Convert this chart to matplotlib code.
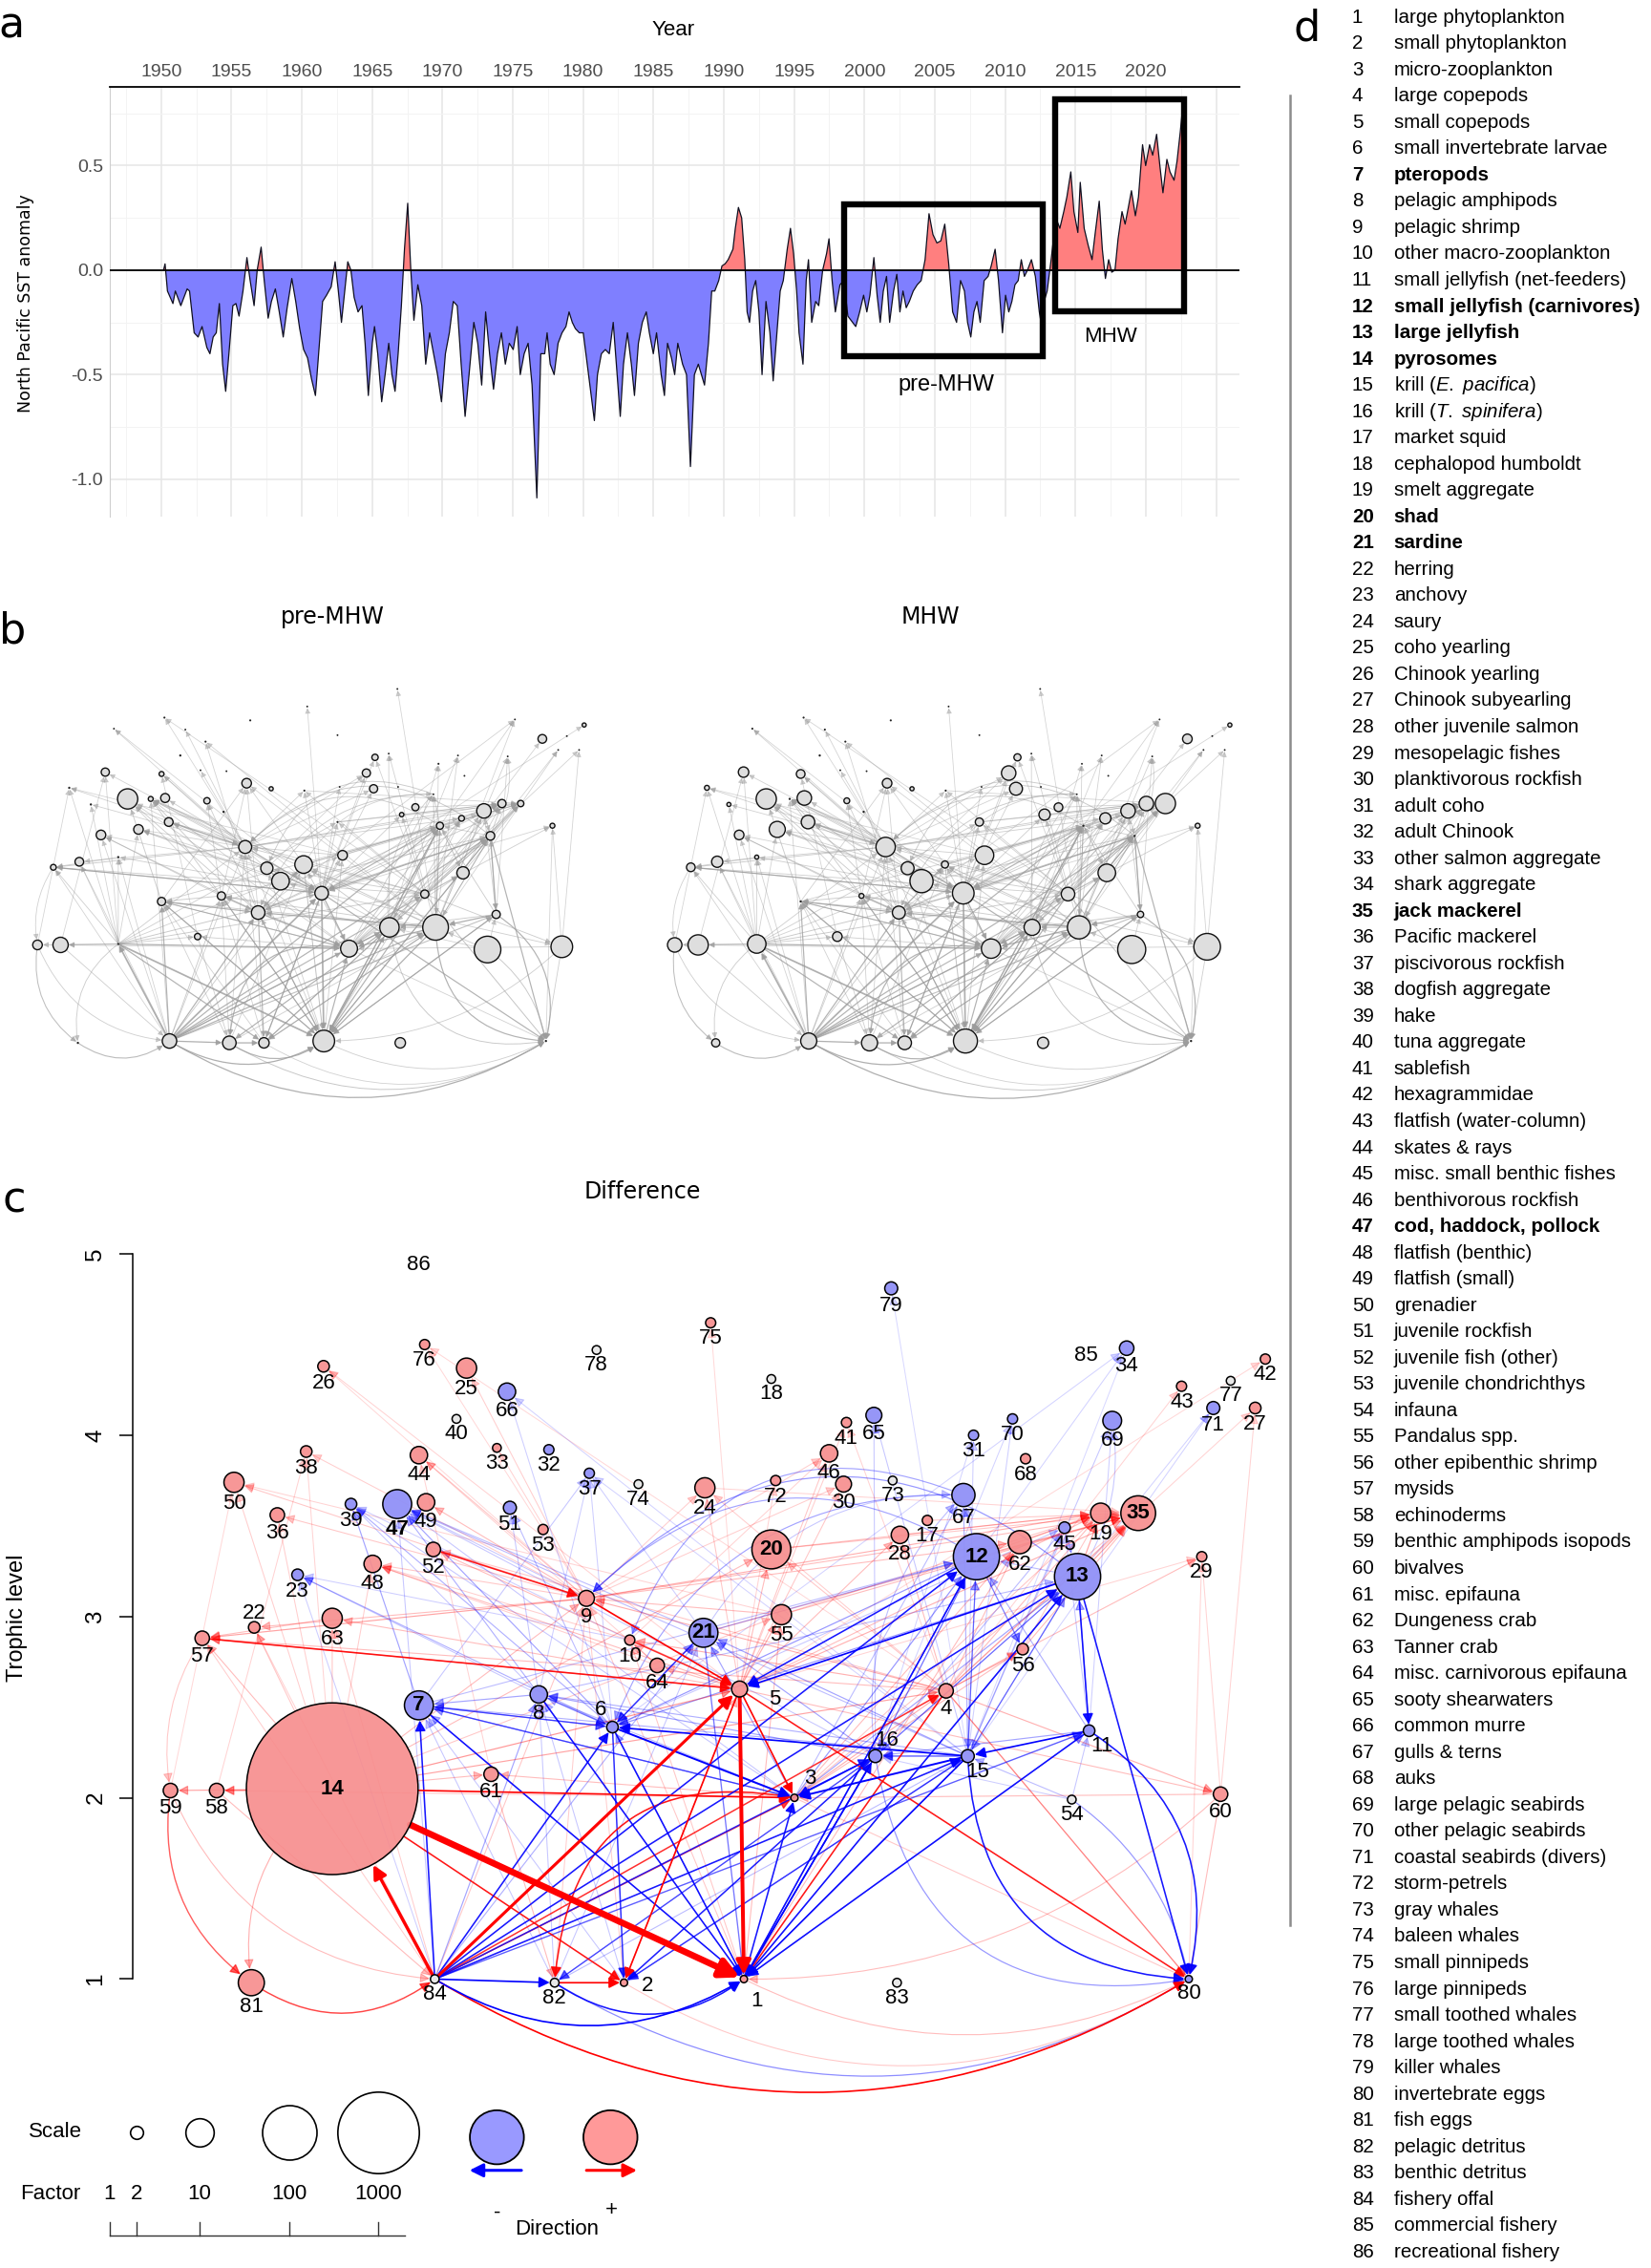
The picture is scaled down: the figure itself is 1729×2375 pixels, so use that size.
import numpy as np
import matplotlib.pyplot as plt
from matplotlib.patches import FancyArrowPatch, Rectangle
from matplotlib.lines import Line2D

plt.rcParams['font.family'] = ['Liberation Sans', 'DejaVu Sans']
plt.rcParams['mathtext.fontset'] = 'custom'
plt.rcParams['mathtext.rm'] = 'Liberation Sans'
plt.rcParams['mathtext.it'] = 'Liberation Sans:italic'

# ---------------- panel a: North Pacific SST anomaly
sst_points = [
    (1950.17, 0.00), (1950.28, 0.03), (1950.45, -0.10), (1950.84, -0.16), (1951.01, -0.10),
    (1951.40, -0.17), (1951.85, -0.09), (1952.02, -0.10), (1952.35, -0.30), (1952.63, -0.32),
    (1952.91, -0.27), (1953.25, -0.37), (1953.47, -0.40), (1953.70, -0.32), (1953.92, -0.30),
    (1954.14, -0.16), (1954.37, -0.45), (1954.59, -0.58), (1954.82, -0.40), (1955.10, -0.17),
    (1955.32, -0.16), (1955.54, -0.22), (1955.82, -0.10), (1956.10, 0.06), (1956.33, -0.05),
    (1956.61, -0.17), (1956.83, 0.00), (1957.11, 0.11), (1957.33, -0.05), (1957.61, -0.23),
    (1957.84, -0.15), (1958.12, -0.09), (1958.40, -0.20), (1958.68, -0.32), (1958.96, -0.18),
    (1959.29, -0.04), (1959.57, -0.15), (1959.85, -0.28), (1960.13, -0.38), (1960.41, -0.42),
    (1960.69, -0.52), (1960.97, -0.60), (1961.20, -0.40), (1961.48, -0.15), (1961.76, -0.12),
    (1962.09, -0.08), (1962.37, 0.04), (1962.60, -0.10), (1962.82, -0.25), (1963.05, -0.10),
    (1963.27, 0.04), (1963.49, 0.00), (1963.72, -0.13), (1964.00, -0.20), (1964.28, -0.17),
    (1964.50, -0.35), (1964.73, -0.60), (1965.01, -0.35), (1965.17, -0.27), (1965.40, -0.40),
    (1965.68, -0.63), (1965.96, -0.48), (1966.18, -0.35), (1966.41, -0.50), (1966.63, -0.58),
    (1966.85, -0.40), (1967.08, -0.17), (1967.30, 0.10), (1967.53, 0.32), (1967.75, 0.00),
    (1967.97, -0.24), (1968.25, -0.07), (1968.53, -0.17), (1968.81, -0.45), (1969.09, -0.30),
    (1969.37, -0.40), (1969.65, -0.50), (1969.93, -0.63), (1970.21, -0.40), (1970.49, -0.30),
    (1970.77, -0.15), (1971.05, -0.17), (1971.33, -0.45), (1971.61, -0.70), (1971.89, -0.50),
    (1972.23, -0.25), (1972.51, -0.35), (1972.79, -0.55), (1973.07, -0.20), (1973.35, -0.40),
    (1973.63, -0.57), (1973.91, -0.40), (1974.19, -0.30), (1974.47, -0.45), (1974.75, -0.35),
    (1975.03, -0.38), (1975.31, -0.27), (1975.53, -0.50), (1975.81, -0.40), (1976.09, -0.35),
    (1976.37, -0.55), (1976.71, -1.09), (1976.99, -0.40), (1977.27, -0.40), (1977.44, -0.30),
    (1977.66, -0.45), (1977.94, -0.50), (1978.22, -0.35), (1978.50, -0.30), (1978.78, -0.27),
    (1979.00, -0.20), (1979.23, -0.25), (1979.45, -0.28), (1979.73, -0.30), (1980.01, -0.30),
    (1980.29, -0.45), (1980.57, -0.60), (1980.80, -0.72), (1981.02, -0.50), (1981.30, -0.40),
    (1981.58, -0.38), (1981.86, -0.40), (1982.14, -0.25), (1982.42, -0.50), (1982.64, -0.70),
    (1982.87, -0.45), (1983.15, -0.30), (1983.43, -0.45), (1983.65, -0.60), (1983.93, -0.35),
    (1984.21, -0.25), (1984.49, -0.20), (1984.71, -0.30), (1984.99, -0.40), (1985.22, -0.30),
    (1985.55, -0.50), (1985.78, -0.60), (1986.00, -0.35), (1986.28, -0.42), (1986.51, -0.50),
    (1986.73, -0.35), (1987.07, -0.45), (1987.35, -0.50), (1987.63, -0.94), (1987.91, -0.50),
    (1988.19, -0.45), (1988.41, -0.50), (1988.63, -0.55), (1988.91, -0.35), (1989.14, -0.10),
    (1989.36, -0.10), (1989.64, -0.05), (1989.87, 0.02), (1990.09, 0.03), (1990.31, 0.05),
    (1990.65, 0.10), (1990.82, 0.20), (1991.04, 0.30), (1991.27, 0.25), (1991.49, 0.05),
    (1991.66, -0.20), (1991.83, -0.25), (1992.05, -0.10), (1992.27, -0.05), (1992.50, -0.20),
    (1992.72, -0.50), (1993.00, -0.15), (1993.28, -0.30), (1993.51, -0.53), (1993.78, -0.30),
    (1994.01, -0.10), (1994.23, -0.05), (1994.51, 0.10), (1994.74, 0.20), (1994.96, 0.08),
    (1995.18, -0.10), (1995.35, -0.30), (1995.63, -0.45), (1995.86, -0.05), (1996.02, 0.05),
    (1996.25, -0.25), (1996.53, -0.15), (1996.75, -0.17), (1997.03, 0.00), (1997.31, 0.08),
    (1997.48, 0.15), (1997.70, -0.05), (1997.93, -0.20), (1998.26, -0.07), (1998.54, -0.05),
    (1998.82, -0.22), (1999.16, -0.25), (1999.38, -0.27), (1999.66, -0.20), (1999.94, -0.12),
    (2000.17, -0.20), (2000.39, -0.12), (2000.67, 0.06), (2000.90, -0.12), (2001.12, -0.25),
    (2001.34, -0.10), (2001.57, -0.03), (2001.79, -0.25), (2002.07, -0.10), (2002.30, -0.02),
    (2002.52, -0.20), (2002.74, -0.10), (2002.97, -0.18), (2003.19, -0.15), (2003.47, -0.10),
    (2003.75, -0.07), (2004.03, -0.05), (2004.31, 0.05), (2004.59, 0.27), (2004.87, 0.17),
    (2005.15, 0.13), (2005.43, 0.14), (2005.71, 0.22), (2005.99, 0.03), (2006.27, -0.20),
    (2006.55, -0.25), (2006.83, -0.05), (2007.11, -0.10), (2007.33, -0.25), (2007.56, -0.32),
    (2007.78, -0.20), (2008.00, -0.15), (2008.23, -0.25), (2008.51, -0.05), (2008.79, -0.03),
    (2009.01, 0.02), (2009.29, 0.10), (2009.53, -0.05), (2009.81, -0.30), (2010.03, -0.12),
    (2010.26, -0.20), (2010.48, -0.15), (2010.70, -0.07), (2010.93, -0.05), (2011.15, 0.05),
    (2011.37, -0.03), (2011.59, 0.00), (2011.87, 0.05), (2012.15, -0.03), (2012.43, -0.20),
    (2012.60, -0.27), (2012.77, -0.15), (2012.99, -0.10), (2013.27, 0.05), (2013.61, 0.25),
    (2013.89, 0.20), (2014.17, 0.28), (2014.39, 0.35), (2014.67, 0.47), (2014.89, 0.28),
    (2015.17, 0.18), (2015.34, 0.42), (2015.62, 0.20), (2015.90, 0.12), (2016.18, 0.05),
    (2016.41, 0.18), (2016.69, 0.33), (2016.91, 0.10), (2017.13, -0.04), (2017.36, 0.05),
    (2017.58, -0.01), (2017.81, 0.00), (2018.03, 0.15), (2018.31, 0.28), (2018.53, 0.22),
    (2018.76, 0.30), (2018.98, 0.38), (2019.26, 0.26), (2019.48, 0.35), (2019.77, 0.60),
    (2019.99, 0.50), (2020.27, 0.60), (2020.49, 0.55), (2020.77, 0.65), (2021.00, 0.50),
    (2021.22, 0.37), (2021.50, 0.53), (2021.72, 0.47), (2022.01, 0.43), (2022.22, 0.52),
    (2022.45, 0.66), (2022.62, 0.78),
]
pre_period, pre_span = (1998.55, 2012.65), (-0.41, 0.315)
mhw_period, mhw_span = (2013.56, 2022.75), (-0.195, 0.817)
year_ticks = list(range(1950, 2021, 5))
anom_ticks = [-1.0, -0.5, 0.0, 0.5]

# ---------------- functional groups (panel d)
group_names = [
    'large phytoplankton', 'small phytoplankton', 'micro-zooplankton', 'large copepods',
    'small copepods', 'small invertebrate larvae', 'pteropods', 'pelagic amphipods',
    'pelagic shrimp', 'other macro-zooplankton', 'small jellyfish (net-feeders)',
    'small jellyfish (carnivores)', 'large jellyfish', 'pyrosomes',
    r'krill ($\mathit{E.\ pacifica}$)', r'krill ($\mathit{T.\ spinifera}$)', 'market squid',
    'cephalopod humboldt', 'smelt aggregate', 'shad', 'sardine', 'herring', 'anchovy', 'saury',
    'coho yearling', 'Chinook yearling', 'Chinook subyearling', 'other juvenile salmon',
    'mesopelagic fishes', 'planktivorous rockfish', 'adult coho', 'adult Chinook',
    'other salmon aggregate', 'shark aggregate', 'jack mackerel', 'Pacific mackerel',
    'piscivorous rockfish', 'dogfish aggregate', 'hake', 'tuna aggregate', 'sablefish',
    'hexagrammidae', 'flatfish (water-column)', 'skates & rays', 'misc. small benthic fishes',
    'benthivorous rockfish', 'cod, haddock, pollock', 'flatfish (benthic)', 'flatfish (small)',
    'grenadier', 'juvenile rockfish', 'juvenile fish (other)', 'juvenile chondrichthys',
    'infauna', 'Pandalus spp.', 'other epibenthic shrimp', 'mysids', 'echinoderms',
    'benthic amphipods isopods', 'bivalves', 'misc. epifauna', 'Dungeness crab', 'Tanner crab',
    'misc. carnivorous epifauna', 'sooty shearwaters', 'common murre', 'gulls & terns', 'auks',
    'large pelagic seabirds', 'other pelagic seabirds', 'coastal seabirds (divers)',
    'storm-petrels', 'gray whales', 'baleen whales', 'small pinnipeds', 'large pinnipeds',
    'small toothed whales', 'large toothed whales', 'killer whales', 'invertebrate eggs',
    'fish eggs', 'pelagic detritus', 'benthic detritus', 'fishery offal',
    'commercial fishery', 'recreational fishery',
]
bold_groups = [7, 12, 13, 14, 20, 21, 35, 47]

# ---------------- food-web layout (horizontal position, trophic level) for groups 1..86
node_x = [
    515, 432, 550, 655, 512, 424, 290, 373, 406, 436,
    754, 676, 746, 230, 670, 606, 642, 534, 762, 534,
    487, 176, 206, 488, 323, 224, 869, 623, 832, 584,
    674, 380, 344, 780, 788, 192, 408, 212, 243, 316,
    586, 876, 818, 290, 737, 574, 275, 258, 295, 162,
    353, 300, 376, 742, 541, 708, 140, 150, 118, 845,
    340, 706, 230, 455, 605, 351, 667, 710, 770, 701,
    840, 537, 618, 442, 492, 294, 852, 413, 617, 823,
    174, 384, 621, 301, 752, 290,
]
node_tl = [
    1.00, 0.98, 2.00, 2.59, 2.60, 2.39, 2.51, 2.57, 3.10, 2.87,
    2.37, 3.33, 3.22, 2.05, 2.23, 2.23, 3.53, 4.31, 3.57, 3.37,
    2.91, 2.94, 3.23, 3.71, 4.37, 4.38, 4.15, 3.45, 3.33, 3.73,
    4.00, 3.92, 3.93, 4.48, 3.57, 3.56, 3.79, 3.91, 3.62, 4.09,
    4.07, 4.42, 4.27, 3.89, 3.49, 3.90, 3.62, 3.29, 3.63, 3.74,
    3.60, 3.37, 3.48, 1.99, 3.01, 2.82, 2.88, 2.04, 2.04, 2.02,
    2.13, 3.41, 2.99, 2.73, 4.11, 4.24, 3.67, 3.87, 4.08, 4.09,
    4.15, 3.75, 3.75, 3.73, 4.62, 4.50, 4.30, 4.47, 4.81, 1.00,
    0.98, 0.98, 0.98, 1.00, 4.44, 4.94,
]
# biomass change factor between periods (magnitude) and its direction
node_fold = [
    0.85, 0.85, 0.85, 2.4, 2.85, 1.66, 10.6, 3.35, 2.85, 1.36,
    1.66, 49, 49, 2.1e6, 2.0, 2.0, 1.36, 1.09, 4.5, 26,
    10.6, 1.66, 1.66, 4.5, 4.5, 1.66, 1.66, 3.35, 1.36, 2.85,
    1.36, 1.36, 1.09, 2.4, 18, 2.4, 1.36, 1.66, 1.66, 1.09,
    1.36, 1.36, 1.36, 3.35, 1.66, 3.35, 10.6, 3.35, 3.35, 4.5,
    2.0, 2.4, 1.36, 1.09, 4.5, 1.66, 2.4, 2.4, 2.4, 2.4,
    2.4, 6.1, 4.5, 2.4, 2.85, 3.35, 6.1, 1.36, 3.9, 1.36,
    2.0, 1.36, 1.09, 1.09, 1.36, 1.36, 1.09, 1.09, 2.0, 0.85,
    8.1, 1.09, 1.09, 1.09, np.nan, np.nan,
]
increase_ids = [1, 2, 3, 4, 5, 9, 10, 14, 17, 19, 20, 22, 24, 25, 26, 27, 28, 29, 30, 33,
                35, 36, 38, 41, 42, 43, 44, 46, 48, 49, 50, 52, 53, 55, 56, 57, 58, 59, 60,
                61, 62, 63, 64, 68, 72, 75, 76, 81]
decrease_ids = [6, 7, 8, 11, 12, 13, 15, 16, 21, 23, 31, 32, 34, 37, 39, 45, 47, 51, 65,
                66, 67, 69, 70, 71, 79, 80]

# biomass index in the two periods (panel b)
pre_biomass = [
    56, 13, 34, 8, 22, 22, 8, 8, 20, 18,
    8, 6, 9, 0.5, 79, 45, 6, 0.4, 8, 0.5,
    37, 9, 11, 0.5, 0.4, 0.4, 0.4, 2.3, 2.9, 8,
    0.5, 0.4, 0.4, 0.4, 4.8, 0.6, 11, 8, 49, 0.6,
    4.8, 2, 9, 2.9, 25, 8, 2.9, 11, 9.6, 0.6,
    4.8, 9, 0.6, 85, 11, 18, 4, 28, 11, 56,
    4.8, 4, 0.6, 37, 0.4, 0.5, 0.4, 0.4, 0.4, 0.4,
    0.4, 0.4, 0.4, 2, 0.4, 0.5, 0.4, 0.5, 0.4, 0.6,
    0.6, 22, 13, 25, 0, 0,
]
mhw_biomass = [
    69, 22, 45, 22, 56, 20, 0.6, 2.9, 45, 20,
    4.8, 0.6, 0.6, 41, 64, 31, 9, 0.4, 25, 8,
    6, 15, 11, 0.5, 0.5, 0.5, 0.4, 15, 2.9, 20,
    0.4, 0.4, 0.4, 0.4, 49, 2, 11, 13, 49, 0.6,
    6, 2, 11, 9, 25, 25, 0.6, 31, 25, 2.9,
    4, 22, 0.6, 94, 41, 37, 9, 49, 25, 85,
    11, 15, 2, 64, 0.4, 0.5, 0.4, 0.4, 0.4, 0.4,
    0.4, 0.4, 0.4, 2, 0.4, 0.5, 0.4, 0.5, 0.4, 0.6,
    8, 31, 15, 31, 0, 0,
]

# trophic flows: (from, to, change)  change > 0 increase, < 0 decrease
edges = [
    (14, 1, 4.5), (5, 1, 2.6), (84, 14, 2.2), (84, 5, 2.0), (5, 3, 1.0), (5, 2, 1.0),
    (14, 3, 1.0), (14, 2, 0.9), (3, 82, 0.9), (82, 2, 1.0), (84, 4, 0.8), (4, 1, 0.9),
    (9, 5, 1.0), (57, 5, 0.9), (52, 9, 0.9), (10, 5, 0.8), (5, 80, 0.9), (84, 80, 1.0),
    (81, 84, 0.7), (59, 81, 0.6), (84, 3, 0.7), (4, 80, 0.45),
    (84, 7, -0.9), (84, 6, -0.9), (84, 82, -1.0), (84, 1, -1.0), (82, 1, -0.9),
    (82, 80, -0.4), (84, 12, -0.9), (84, 13, -0.9), (84, 15, -0.9), (84, 16, -0.8),
    (84, 11, -0.6), (7, 1, -0.9), (8, 1, -0.9), (6, 1, -0.9), (6, 2, -0.8), (6, 3, -1.2),
    (15, 3, -1.2), (15, 6, -1.0), (16, 3, -0.9), (15, 1, -1.0), (16, 1, -0.9), (11, 1, -0.9),
    (1, 16, -0.9), (1, 3, -0.9), (13, 11, -0.9), (13, 80, -0.9), (11, 80, -0.9),
    (15, 80, -0.9), (11, 15, -1.0), (12, 5, -0.9), (13, 5, -1.0), (1, 12, -0.9),
    (1, 13, -0.8), (21, 6, -0.7), (16, 2, -0.8), (15, 2, -0.7), (7, 6, -0.6), (16, 82, -0.6),
    (13, 1, -0.6), (12, 1, -0.5), (21, 1, -0.5), (8, 6, -0.5), (7, 3, -0.6), (15, 16, -0.6),
    (54, 80, -0.35), (13, 9, -0.35), (12, 9, -0.3), (67, 10, -0.3), (67, 6, -0.3),
    (13, 6, -0.35), (12, 6, -0.35), (12, 56, -0.45), (1, 11, -0.35), (16, 80, -0.35),
    (54, 15, -0.2),
    (6, 7, -0.3), (8, 7, -0.3), (3, 7, -0.3), (15, 7, -0.25), (16, 8, -0.3), (15, 8, -0.25),
    (15, 21, -0.3), (16, 21, -0.3), (3, 21, -0.3), (6, 39, -0.25), (7, 39, -0.3),
    (6, 47, -0.3), (8, 47, -0.25), (15, 47, -0.2), (21, 47, -0.2), (6, 23, -0.25),
    (6, 51, -0.2), (7, 37, -0.15), (15, 45, -0.2), (16, 45, -0.2), (15, 67, -0.25),
    (3, 67, -0.2), (15, 69, -0.15), (16, 65, -0.15), (15, 65, -0.15), (15, 31, -0.12),
    (6, 66, -0.12), (15, 70, -0.12), (15, 71, -0.1), (15, 79, -0.08), (16, 12, -0.3),
    (15, 12, -0.35), (3, 12, -0.35), (15, 13, -0.35), (16, 13, -0.3), (11, 13, -0.3),
    (3, 13, -0.3), (21, 12, -0.25), (7, 12, -0.2), (8, 13, -0.2), (45, 13, -0.2),
    (11, 12, -0.25), (6, 21, -0.3), (3, 8, -0.2), (1, 7, -0.25), (1, 8, -0.2), (1, 6, -0.3),
    (6, 34, -0.1), (12, 34, -0.1), (13, 69, -0.15), (12, 67, -0.2), (13, 71, -0.1),
    (11, 16, -0.3), (2, 16, -0.3), (2, 15, -0.25), (82, 16, -0.2), (82, 15, -0.2),
    (84, 21, -0.25), (84, 8, -0.3), (13, 16, -0.3), (12, 16, -0.25), (12, 15, -0.3),
    (13, 15, -0.3),
    (9, 47, -0.15), (10, 39, -0.12), (10, 23, -0.12), (8, 39, -0.15), (8, 23, -0.15),
    (6, 37, -0.12), (8, 51, -0.15), (15, 37, -0.1), (15, 66, -0.1), (16, 67, -0.2),
    (13, 12, -0.2), (6, 45, -0.15), (8, 37, -0.12), (21, 37, -0.12), (21, 67, -0.15),
    (16, 31, -0.1), (16, 70, -0.1), (11, 69, -0.12), (11, 45, -0.15), (15, 34, -0.08),
    (3, 47, -0.15), (3, 39, -0.15), (16, 47, -0.15), (84, 23, -0.12), (84, 47, -0.15),
    (82, 21, -0.15), (82, 8, -0.15), (82, 7, -0.15), (2, 8, -0.15), (2, 7, -0.15),
    (54, 11, -0.15), (54, 16, -0.12),
    (9, 19, 0.25), (5, 19, 0.2), (20, 19, 0.2), (55, 35, 0.2), (9, 35, 0.2), (12, 19, 0.2),
    (21, 35, 0.2), (4, 19, 0.2), (5, 35, 0.25), (9, 62, 0.2), (4, 62, 0.2), (5, 57, 0.3),
    (4, 57, 0.2), (14, 59, 0.3), (14, 58, 0.3), (3, 58, 0.15), (60, 1, 0.2), (60, 3, 0.2),
    (4, 60, 0.25), (5, 60, 0.2), (14, 61, 0.2), (5, 64, 0.2), (1, 55, 0.2), (5, 55, 0.25),
    (4, 10, 0.25), (4, 9, 0.25), (14, 9, 0.2), (5, 24, 0.15), (5, 20, 0.2), (4, 20, 0.15),
    (9, 50, 0.15), (9, 36, 0.15), (9, 49, 0.2), (5, 48, 0.2), (5, 52, 0.2), (4, 52, 0.15),
    (9, 22, 0.2), (5, 63, 0.2), (5, 28, 0.2), (4, 28, 0.2), (5, 30, 0.15), (5, 46, 0.15),
    (9, 44, 0.15), (5, 41, 0.12), (9, 25, 0.12), (5, 26, 0.1), (9, 33, 0.1), (14, 57, 0.2),
    (3, 61, 0.2), (4, 56, 0.25), (3, 56, 0.2), (56, 35, 0.2), (13, 35, 0.3), (4, 35, 0.25),
    (14, 81, 0.25), (58, 84, 0.2), (59, 84, 0.2), (57, 59, 0.15), (2, 80, 0.15),
    (1, 80, 0.2), (3, 80, 0.15), (29, 80, 0.1), (60, 80, 0.2), (9, 57, 0.3), (63, 57, 0.2),
    (55, 9, 0.2), (64, 10, 0.2), (61, 82, 0.2), (13, 19, 0.3), (12, 35, 0.25),
    (62, 19, 0.2), (28, 19, 0.15), (17, 35, 0.15), (4, 29, 0.2), (5, 29, 0.1), (4, 27, 0.1),
    (4, 43, 0.1), (5, 42, 0.08), (9, 38, 0.12), (9, 26, 0.08), (14, 22, 0.15),
    (14, 63, 0.15), (14, 48, 0.12), (5, 75, 0.08), (4, 76, 0.08), (9, 76, 0.08),
    (1, 62, 0.2), (3, 62, 0.2), (14, 55, 0.15), (14, 20, 0.2), (14, 5, 0.35), (14, 4, 0.3),
    (3, 4, 0.25),
    (9, 48, 0.15), (10, 48, 0.12), (55, 19, 0.15), (20, 35, 0.15), (24, 35, 0.1),
    (9, 30, 0.12), (10, 46, 0.1), (5, 72, 0.1), (4, 24, 0.12), (9, 24, 0.12), (9, 46, 0.12),
    (55, 50, 0.1), (14, 50, 0.12), (14, 36, 0.12), (14, 38, 0.1), (4, 41, 0.1),
    (56, 19, 0.15), (3, 35, 0.15), (3, 19, 0.15), (64, 48, 0.12), (64, 44, 0.1),
    (61, 44, 0.1), (58, 38, 0.1), (59, 50, 0.08), (60, 29, 0.1), (60, 27, 0.1), (1, 9, 0.15),
    (1, 10, 0.15), (2, 5, 0.2), (2, 9, 0.12), (82, 9, 0.12), (84, 9, 0.15), (84, 57, 0.12),
    (84, 22, 0.1), (84, 63, 0.12),
]
edge_bend = {
    (3, 82): 0.55, (84, 80): 0.3, (81, 84): 0.35, (59, 81): 0.3, (84, 1): 0.3,
    (82, 1): 0.35, (82, 80): 0.3, (11, 80): -0.35, (15, 80): 0.45, (16, 80): 0.5,
    (13, 9): 0.45, (12, 9): 0.4, (67, 10): 0.5, (67, 6): 0.35, (59, 84): 0.3,
    (2, 80): 0.3, (1, 80): 0.25, (14, 81): 0.3, (54, 80): -0.2, (13, 69): 0.2,
    (21, 67): -0.3, (16, 67): -0.25, (60, 1): -0.2, (57, 59): 0.2,
}

factor_ticks = [1, 2, 10, 100, 1000]
factor_circles = [2, 10, 100, 1000]

# ---------------- helpers (positions measured on a 1143 x 1570 sketch of the page)
DW, DH = 1143.0, 1570.0
PT = (1729 / DW) * 72 / 100

fig = plt.figure(figsize=(17.29, 23.75), dpi=100)


def frect(x0, y0, x1, y1):
    return [x0 / DW, 1 - y1 / DH, (x1 - x0) / DW, (y1 - y0) / DH]


def ftext(x, y, s, **kw):
    kw.setdefault('ha', 'center')
    kw.setdefault('va', 'center')
    fig.text(x / DW, 1 - y / DH, s, **kw)


def tl_of(y):
    return 1 + (1370 - y) / 125.5


RED, BLUE = '#FF0000', '#0000FF'

# ---------------- panel a
yr, an = np.array(sst_points).T
ax = fig.add_axes(frect(76, 60.4, 858, 357.7))
ax.set_xlim(1946.35, 2026.65)
ax.set_ylim(-1.18, 0.875)
for v in np.arange(1947.5, 2026, 5):
    ax.axvline(v, color='#F3F3F3', lw=0.7, zorder=0)
for v in year_ticks + [2025]:
    ax.axvline(v, color='#E6E6E6', lw=1.1, zorder=0)
for v in [-0.75, -0.25, 0.25, 0.75]:
    ax.axhline(v, color='#F3F3F3', lw=0.7, zorder=0)
for v in anom_ticks:
    ax.axhline(v, color='#E6E6E6', lw=1.1, zorder=0)
ax.fill_between(yr, an, 0, where=an >= 0, interpolate=True, color='#FF7F7F', lw=0, zorder=1)
ax.fill_between(yr, an, 0, where=an <= 0, interpolate=True, color='#7F7FFF', lw=0, zorder=1)
ax.plot(yr, an, color='#101020', lw=0.9, zorder=2)
ax.axhline(0, color='black', lw=1.3, zorder=3)
for (x0, x1), (y0, y1) in [(pre_period, pre_span), (mhw_period, mhw_span)]:
    ax.add_patch(Rectangle((x0, y0), x1 - x0, y1 - y0, fill=False, ec='black', lw=4.6,
                           zorder=4))
ax.text(2005.8, -0.55, 'pre-MHW', ha='center', va='center', size=17)
ax.text(2017.5, -0.32, 'MHW', ha='center', va='center', size=16)
ax.xaxis.tick_top()
ax.set_xticks(year_ticks)
ax.set_yticks(anom_ticks)
ax.set_yticklabels(['-1.0', '-0.5', '0.0', '0.5'])
ax.tick_params(length=0, labelsize=14, labelcolor='#4D4D4D')
ax.tick_params(axis='x', pad=5)
ax.tick_params(axis='y', pad=5)
for s in ['bottom', 'right']:
    ax.spines[s].set_visible(False)
ax.spines['top'].set_color('black')
ax.spines['top'].set_linewidth(1.3)
ax.spines['left'].set_color('#CFCFCF')
ax.spines['left'].set_linewidth(0.8)
ftext(466, 21, 'Year', size=16)
ftext(18, 210, 'North Pacific SST anomaly', rotation=90, size=12.5, family='DejaVu Sans')

# ---------------- networks
nx = np.array(node_x, float)
ny = np.array(node_tl, float)
ids = np.arange(1, 87)


def draw_edges(axn, radii, diff):
    for s, t, w in sorted(edges, key=lambda e: abs(e[2])):
        a = abs(w)
        if diff:
            col = RED if w > 0 else BLUE
            alpha = min(1.0, 0.08 + 0.92 * a)
            lw = 0.7 + 0.5 * min(a, 1) + 1.05 * max(a - 1, 0)
            ms = 9 + 2.5 * lw
        else:
            col = '#9C9C9C'
            alpha = 0.4 + 0.4 * min(a, 1)
            lw = 0.55 + 0.35 * min(a, 2)
            ms = 6
        arr = FancyArrowPatch((nx[s - 1], ny[s - 1]), (nx[t - 1], ny[t - 1]),
                              connectionstyle='arc3,rad=%.2f' % edge_bend.get((s, t), 0.0),
                              arrowstyle='-|>,head_length=0.55,head_width=0.28',
                              mutation_scale=ms, color=col, alpha=alpha, lw=lw,
                              shrinkA=radii[s - 1] * PT, shrinkB=radii[t - 1] * PT + 0.5,
                              zorder=1 + min(a, 2), clip_on=False)
        axn.add_patch(arr)


def net_axes(rect):
    axn = fig.add_axes(rect)
    axn.set_xlim(60, 900)
    axn.set_ylim(tl_of(1460), tl_of(840))
    axn.axis('off')
    return axn


# panel b
for rect, biomass, title, tx in [(frect(-3, 450.5, 416.4, 766.5), pre_biomass, 'pre-MHW', 230),
                                 (frect(437.7, 450.5, 863.6, 766.5), mhw_biomass, 'MHW', 644)]:
    axb = net_axes(rect)
    rb = np.sqrt(np.array(biomass, float))
    draw_edges(axb, rb, False)
    big = rb >= 1.0
    axb.scatter(nx[big], ny[big], s=(2 * rb[big] * PT) ** 2, fc='#DEDEDE', ec='#111111',
                lw=1.0, zorder=5)
    tiny = (rb > 0) & ~big
    axb.scatter(nx[tiny], ny[tiny], s=(2 * rb[tiny] * PT) ** 2, fc='#222222', ec='none',
                zorder=5)
    ftext(tx, 427, title, size=17, family='DejaVu Sans')

# panel c
axc = net_axes(frect(60, 840, 900, 1460))
axc.axis('on')
rc = np.where(np.isnan(node_fold), 0.0, 9.4 * np.log10(1 + np.nan_to_num(node_fold)))
draw_edges(axc, rc, True)
faces = []
for i in ids:
    if i in increase_ids:
        faces.append((0.97, 0.55, 0.55, 0.9))
    elif i in decrease_ids:
        faces.append((0.57, 0.57, 0.97, 0.95))
    else:
        faces.append((0.91, 0.91, 0.91, 1.0))
has = rc > 0
axc.scatter(nx[has], ny[has], s=(2 * rc[has] * PT) ** 2, c=[f for f, h in zip(faces, has) if h],
            edgecolors='black', linewidths=1.1, zorder=5)

inside = [7, 12, 13, 14, 20, 21, 35]
label_offset = {22: (0, -10), 5: (24, 7), 6: (-8, -12), 11: (9, 11), 16: (8, -11),
                15: (7, 11), 3: (11, -13), 2: (16, 2), 1: (9, 15)}
for i in ids:
    r = rc[i - 1]
    if i in inside or r == 0:
        dx, dy = 0, 0
    else:
        dx, dy = label_offset.get(i, (0, r + 7.5))
    wt = 'bold' if i in bold_groups else 'normal'
    axc.annotate(str(i), (nx[i - 1], ny[i - 1]), xytext=(dx * PT, -dy * PT),
                 textcoords='offset points', ha='center', va='center', size=16,
                 weight=wt, zorder=7)

for s in ['top', 'right', 'bottom']:
    axc.spines[s].set_visible(False)
axc.spines['left'].set_position(('data', 92))
axc.spines['left'].set_bounds(1, 5)
axc.spines['left'].set_linewidth(1.1)
axc.set_xticks([])
axc.set_yticks([1, 2, 3, 4, 5])
axc.tick_params(axis='y', length=10, width=1.1, pad=10, labelsize=17.5, labelrotation=90)
for lab in axc.get_yticklabels():
    lab.set_va('center')
ftext(12, 1120, 'Trophic level', rotation=90, size=17)
ftext(445, 825, 'Difference', size=17, family='DejaVu Sans')

# legend below panel c
axl = fig.add_axes(frect(0, 1440, 520, 1570))
axl.set_xlim(0, 520)
axl.set_ylim(1570, 1440)
axl.axis('off')
axl.text(38, 1476, 'Scale', ha='center', va='center', size=16)
axl.text(35, 1519, 'Factor', ha='center', va='center', size=16)
for f in factor_circles:
    r = 9.4 * np.log10(1 + f)
    axl.scatter(76 + 62 * np.log10(f), 1476, s=(2 * r * PT) ** 2, fc='white', ec='black',
                lw=1.2)
for f in factor_ticks:
    fxp = 76 + 62 * np.log10(f)
    axl.text(fxp, 1519, str(f), ha='center', va='center', size=16)
    axl.plot([fxp, fxp], [1538, 1547.5], color='#333333', lw=1.0)
axl.plot([76, 280], [1547.5, 1547.5], color='#333333', lw=1.0)
axl.scatter([344, 422.6], [1479.5, 1479.5], s=(2 * 18.7 * PT) ** 2,
            c=['#9999FF', '#FF9999'], edgecolors='black', linewidths=1.3)
axl.annotate('', xy=(325, 1502.4), xytext=(361, 1502.4),
             arrowprops=dict(arrowstyle='-|>,head_length=0.6,head_width=0.3', color=BLUE,
                             lw=2.2, mutation_scale=14, shrinkA=0, shrinkB=0))
axl.annotate('', xy=(441, 1502.4), xytext=(406, 1502.4),
             arrowprops=dict(arrowstyle='-|>,head_length=0.6,head_width=0.3', color=RED,
                             lw=2.2, mutation_scale=14, shrinkA=0, shrinkB=0))
axl.text(344, 1532, '-', ha='center', va='center', size=16)
axl.text(423.5, 1530, '+', ha='center', va='center', size=16)
axl.text(385.6, 1543.5, 'Direction', ha='center', va='center', size=16)

# ---------------- panel d
fig.add_artist(Line2D([893 / DW, 893 / DW], [1 - 66 / DH, 1 - 1333 / DH],
                      color='#8C8C8C', lw=1.8))
for i, name in enumerate(group_names):
    y = 12 + i * 18.2
    wt = 'bold' if (i + 1) in bold_groups else 'normal'
    ftext(936, y, str(i + 1), ha='left', size=14.8, weight=wt)
    ftext(965, y, name, ha='left', size=14.8, weight=wt)

# panel letters
for letter, x, y in [('a', 8, 18), ('b', 9, 437), ('c', 10, 831), ('d', 905, 20)]:
    ftext(x, y, letter, size=32, family='DejaVu Sans')

fig.savefig('out.png', dpi=100, facecolor='white')
